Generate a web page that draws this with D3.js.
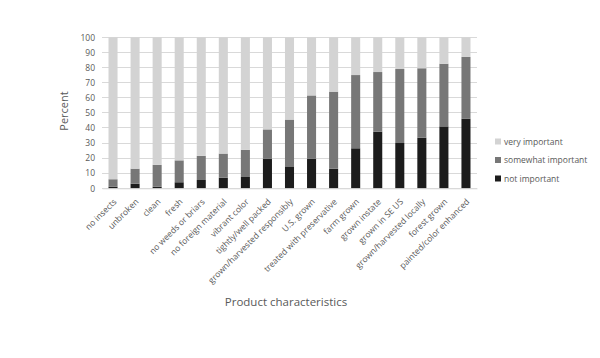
<!DOCTYPE html>
<html><head><meta charset="utf-8">
<script src="https://cdn.jsdelivr.net/npm/d3@7"></script>
<style>body{margin:0;background:#fff}svg{display:block}text{font-family:"Open Sans","Liberation Sans",Arial,sans-serif}</style>
</head><body><svg id="c" width="600" height="358"></svg>
<script>
const categories = ["no insects","unbroken","clean","fresh","no weeds or briars","no foreign material","vibrant color","tightly/well packed","grown/harvested responsibly","U.S. grown","treated with preservative","farm grown","grown instate","grown in SE US","grown/harvested locally","forest grown","painted/color enhanced"];
const notImportant = [1, 3, 1, 4, 5.5, 7, 7.5, 19.5, 14.5, 19.5, 13, 26.5, 37.5, 30, 33.5, 41, 46];
const somewhatImportant = [5, 10, 14.5, 14.5, 16, 16, 18, 19.5, 31, 42, 51, 48.5, 39.5, 49, 46, 41.5, 41];
const veryImportant = notImportant.map((d,i)=>100 - d - somewhatImportant[i]);
const seriesNames = ["not important","somewhat important","very important"];
const colors = ["#1c1c1c","#777777","#d3d3d3"];
const yTicks = [0,10,20,30,40,50,60,70,80,90,100];

const svg = d3.select("#c");
const x = d3.scaleBand().domain(categories).range([102,477]).paddingInner(0.59).paddingOuter(0.295);
const y = d3.scaleLinear().domain([0,100]).range([188.3,37.3]);

// gridlines
svg.append("g").selectAll("line").data(yTicks).join("line")
  .attr("x1",102).attr("x2",477).attr("y1",d=>y(d)).attr("y2",d=>y(d))
  .attr("stroke","#d9d9d9").attr("stroke-width",1).attr("shape-rendering","crispEdges");

const rows = categories.map((c,i)=>({cat:c, "not important":notImportant[i], "somewhat important":somewhatImportant[i], "very important":veryImportant[i]}));
const stack = d3.stack().keys(seriesNames)(rows);
svg.append("g").selectAll("g").data(stack).join("g").attr("fill",(d,i)=>colors[i])
  .selectAll("rect").data(d=>d).join("rect")
  .attr("x",d=>x(d.data.cat)).attr("width",x.bandwidth())
  .attr("y",d=>y(d[1])).attr("height",d=>y(d[0])-y(d[1]));

// y axis
const yAxis = d3.axisLeft(y).tickValues(yTicks).tickSize(0).tickPadding(7);
const gy = svg.append("g").attr("transform","translate(102,0)").call(yAxis);
gy.select(".domain").remove();
gy.selectAll("text").attr("fill","#595959").style("font-size","8.5px");

// x axis
const xAxis = d3.axisBottom(x).tickSize(0).tickPadding(0);
const gx = svg.append("g").attr("transform","translate(0,188.3)").call(xAxis);
gx.select(".domain").attr("stroke","#d9d9d9");
gx.selectAll("text").attr("fill","#595959").style("font-size","8.5px")
  .attr("text-anchor","end").attr("dy",0).attr("y",0)
  .attr("transform","translate(4,14) rotate(-45)");

// titles
svg.append("text").attr("transform","translate(68,111) rotate(-90)").attr("text-anchor","middle")
  .attr("fill","#595959").style("font-size","11px").text("Percent");
svg.append("text").attr("x",286).attr("y",306).attr("text-anchor","middle")
  .attr("fill","#595959").style("font-size","11.5px").text("Product characteristics");

// legend
const leg = [["very important",colors[2]],["somewhat important",colors[1]],["not important",colors[0]]];
const lg = svg.append("g").selectAll("g").data(leg).join("g")
  .attr("transform",(d,i)=>`translate(495,${142+i*18.5})`);
lg.append("rect").attr("x",0).attr("y",-3.5).attr("width",6).attr("height",6).attr("fill",d=>d[1]);
lg.append("text").attr("x",9).attr("y",0).attr("dy","0.35em").attr("fill","#595959").style("font-size","8.5px").text(d=>d[0]);
</script></body></html>
